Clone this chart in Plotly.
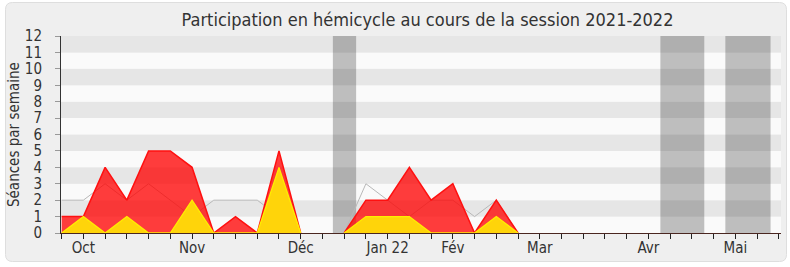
import plotly.graph_objects as go

# ---- data (week index from start of session) ----
weeks = list(range(22))
presence_total = [1, 1, 4, 2, 5, 5, 4, 0, 1, 0, 5, 0, None, 0, 2, 2, 4, 2, 3, 0, 2, 0]
presence_hemicycle = [0, 1, 0, 1, 0, 0, 2, 0, 0, 0, 4, 0, None, 0, 1, 1, 1, 0, 0, 0, 1, 0]
median_deputes = [2, 2, 3, 2, 3, 2, 1, 2, 2, 2, 1, 0, None, 0, 3, 2, 1, 2, 2, 1, 2, 0]

tick_weeks = list(range(34))
month_labels = {1: "Oct", 6: "Nov", 11: "Déc", 15: "Jan 22", 18: "Fév", 22: "Mar", 27: "Avr", 31: "Mai"}
vacation_start = [12.48, 27.55, 30.54]
vacation_end = [13.55, 29.57, 32.62]
y_ticks = list(range(13))

TITLE = "Participation en hémicycle au cours de la session 2021-2022"
YTITLE = "Séances par semaine"

# ---- geometry ----
W, H = 790, 267
L, R, T, B = 61, 781, 36, 233
FONT = "DejaVu Sans Condensed, DejaVu Sans, sans-serif"


def px(xp):
    return (xp - L) / (R - L)


def py(yp):
    return (B - yp) / (B - T)


def rounded_rect(x0, y0, x1, y1, r):
    pts = []
    pts.append(f"M {px(x0 + r)},{py(y0)}")
    pts.append(f"L {px(x1 - r)},{py(y0)}")
    pts.append(f"Q {px(x1)},{py(y0)} {px(x1)},{py(y0 + r)}")
    pts.append(f"L {px(x1)},{py(y1 - r)}")
    pts.append(f"Q {px(x1)},{py(y1)} {px(x1 - r)},{py(y1)}")
    pts.append(f"L {px(x0 + r)},{py(y1)}")
    pts.append(f"Q {px(x0)},{py(y1)} {px(x0)},{py(y1 - r)}")
    pts.append(f"L {px(x0)},{py(y0 + r)}")
    pts.append(f"Q {px(x0)},{py(y0)} {px(x0 + r)},{py(y0)}")
    pts.append("Z")
    return " ".join(pts)


shapes = [
    dict(type="path", xref="paper", yref="paper", layer="below",
         path=rounded_rect(5.5, 2.5, 786.5, 261.5, 7),
         fillcolor="#efefef", line=dict(color="#dedede", width=1))
]
for i in range(12):
    shapes.append(dict(type="rect", xref="paper", yref="y", layer="below",
                       x0=0, x1=1, y0=i, y1=i + 1,
                       fillcolor="#e6e6e6" if i % 2 == 1 else "#fafafa",
                       line=dict(width=0)))
for s, e in zip(vacation_start, vacation_end):
    shapes.append(dict(type="rect", xref="x", yref="paper", layer="below",
                       x0=s, x1=e, y0=0, y1=1,
                       fillcolor="rgba(0,0,0,0.24)", line=dict(width=0)))

fig = go.Figure()
fig.add_trace(go.Scatter(x=weeks, y=median_deputes, mode="lines",
                         line=dict(color="#b8b8b8", width=1), hoverinfo="skip"))
fig.add_trace(go.Scatter(x=weeks, y=presence_total, mode="lines", fill="tozeroy",
                         fillcolor="rgba(255,0,0,0.76)",
                         line=dict(color="#ff1010", width=1.5), hoverinfo="skip"))
fig.add_trace(go.Scatter(x=weeks, y=presence_hemicycle, mode="lines", fill="tozeroy",
                         fillcolor="#ffd40a",
                         line=dict(color="#ffee00", width=1.3), hoverinfo="skip"))

fig.update_layout(
    width=W, height=H,
    margin=dict(l=L, r=W - R, t=T, b=H - B, pad=0, autoexpand=False),
    paper_bgcolor="white", plot_bgcolor="rgba(0,0,0,0)",
    showlegend=False, hovermode=False,
    font=dict(family=FONT, size=15, color="#333333"),
    shapes=shapes,
    title=dict(text=TITLE, x=(427.5 - L) / (R - L), xref="paper", xanchor="center",
               y=1 - 19.5 / H, yref="container", yanchor="middle",
               font=dict(family=FONT, size=18, color="#333333")),
    xaxis=dict(range=[-0.03, 33.1], showgrid=False, zeroline=False, automargin=False,
               showline=True, linecolor="#4a2620", linewidth=1,
               ticks="outside", ticklen=5, tickcolor="#222222", tickwidth=1,
               tickvals=tick_weeks,
               ticktext=[month_labels.get(k, "") for k in tick_weeks],
               tickfont=dict(family=FONT, size=15, color="#333333"),
               ticklabelstandoff=-4),
    yaxis=dict(range=[0, 12], showgrid=False, zeroline=False, automargin=False,
               showline=True, linecolor="#333333", linewidth=1,
               ticks="outside", ticklen=5, tickcolor="#999999",
               tickvals=y_ticks,
               tickfont=dict(family=FONT, size=15, color="#333333"),
               ticklabelstandoff=10),
    annotations=[dict(text=YTITLE, textangle=-90, xref="paper", yref="paper",
                      x=px(13.5), y=0.5, xanchor="center", yanchor="middle",
                      showarrow=False,
                      font=dict(family=FONT, size=15, color="#333333"))],
)

fig.write_html("out.html")
